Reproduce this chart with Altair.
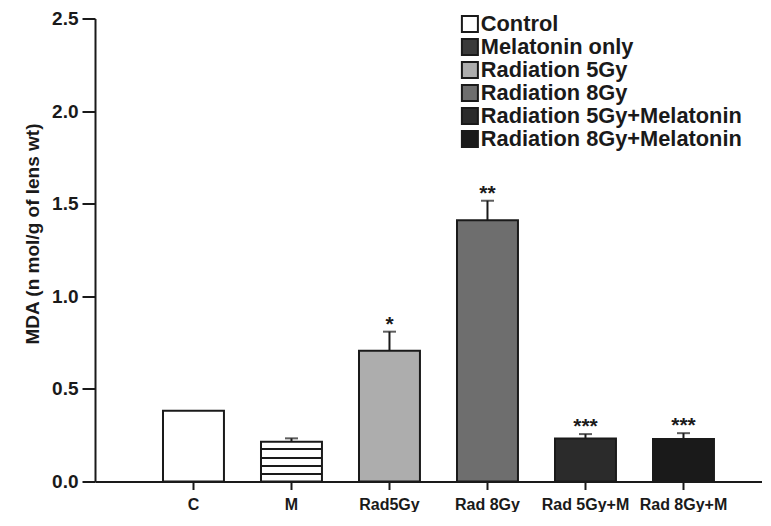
import altair as alt
import pandas as pd

# ---- data ----
cats = ["C", "M", "Rad5Gy", "Rad 8Gy", "Rad 5Gy+M", "Rad 8Gy+M"]
groups = ["Control", "Melatonin only", "Radiation 5Gy", "Radiation 8Gy",
          "Radiation 5Gy+Melatonin", "Radiation 8Gy+Melatonin"]
values = [0.382, 0.215, 0.706, 1.410, 0.232, 0.229]
errors = [0.0, 0.018, 0.103, 0.106, 0.024, 0.032]
stars = ["", "", "*", "**", "***", "***"]
colors = ["#ffffff", "#3a3a3a", "#adadad", "#6e6e6e", "#2b2b2b", "#1a1a1a"]
y_ticks = [0.0, 0.5, 1.0, 1.5, 2.0, 2.5]

df = pd.DataFrame({"cat": cats, "group": groups, "val": values, "err": errors, "star": stars})
df["upper"] = df["val"] + df["err"]

FONT = "Liberation Sans"


def stripe_stops(centers, half, line, bg):
    stops = [(0, bg)]
    for c in centers:
        stops += [(c - half, bg), (c - half, line), (c + half, line), (c + half, bg)]
    stops.append((1, bg))
    return stops


bar_grad = {"gradient": "linear", "x1": 0, "y1": 0, "x2": 0, "y2": 1,
            "stops": [{"offset": round(o, 4), "color": c}
                      for o, c in stripe_stops([0.19, 0.40, 0.61, 0.81], 0.027,
                                               "#1a1a1a", "#ffffff")]}

base = alt.Chart(df).encode(
    x=alt.X("cat:N", sort=cats,
            scale=alt.Scale(paddingInner=0.378, paddingOuter=0.592, align=0.586),
            axis=alt.Axis(title=None, labelAngle=0, labelFont=FONT, labelFontSize=16,
                          labelFontWeight="bold", labelColor="#1a1a1a", labelPadding=7,
                          tickSize=8, tickWidth=2, tickColor="#1a1a1a",
                          domainWidth=2, domainColor="#1a1a1a"))
)

legend = alt.Legend(title=None, orient="none", legendX=364, legendY=-5, padding=0,
                    labelFont=FONT, labelFontSize=21.8, labelFontWeight="bold",
                    labelColor="#1a1a1a", labelOffset=0, labelLimit=500,
                    symbolType="square", symbolSize=256, symbolStrokeColor="#1a1a1a",
                    symbolStrokeWidth=2, symbolOpacity=1, rowPadding=-2, clipHeight=21)

bars = base.mark_bar(stroke="#1a1a1a", strokeWidth=2).encode(
    y=alt.Y("val:Q", scale=alt.Scale(domain=[0, 2.5], nice=False),
            axis=alt.Axis(title="MDA (n mol/g of lens wt)", values=y_ticks, format=".1f",
                          grid=False, labelFont=FONT, labelFontSize=19,
                          labelFontWeight="bold", labelColor="#1a1a1a", labelPadding=4,
                          tickSize=13, tickWidth=2, tickColor="#1a1a1a",
                          domainWidth=2, domainColor="#1a1a1a",
                          titleFont=FONT, titleFontSize=19, titleFontWeight="bold",
                          titleColor="#1a1a1a", titleAngle=270, titleX=-57, titleY=215,
                          titleAlign="center", titleBaseline="alphabetic")),
    fill=alt.condition(alt.datum.cat == "M", alt.value(bar_grad),
                       alt.Fill("group:N", sort=groups,
                                scale=alt.Scale(domain=groups, range=colors),
                                legend=legend)),
)

errs = base.transform_filter(alt.datum.err > 0)
stems = errs.mark_rule(color="#1a1a1a", strokeWidth=2).encode(y="val:Q", y2="upper:Q")
caps = errs.mark_tick(color="#1a1a1a", size=13, thickness=2, orient="horizontal").encode(
    y="upper:Q")
labels = errs.mark_text(font=FONT, fontSize=21, fontWeight="bold", baseline="alphabetic",
                        dy=-1, color="#1a1a1a").encode(y="upper:Q", text="star:N")

chart = alt.layer(bars, stems, caps, labels).properties(
    width=667, height=463, autosize="none",
    padding={"left": 87, "top": 10.5, "right": 0, "bottom": 30},
).configure_view(stroke=None)

chart.save("out.html", embed_options={"renderer": "svg", "actions": False})
